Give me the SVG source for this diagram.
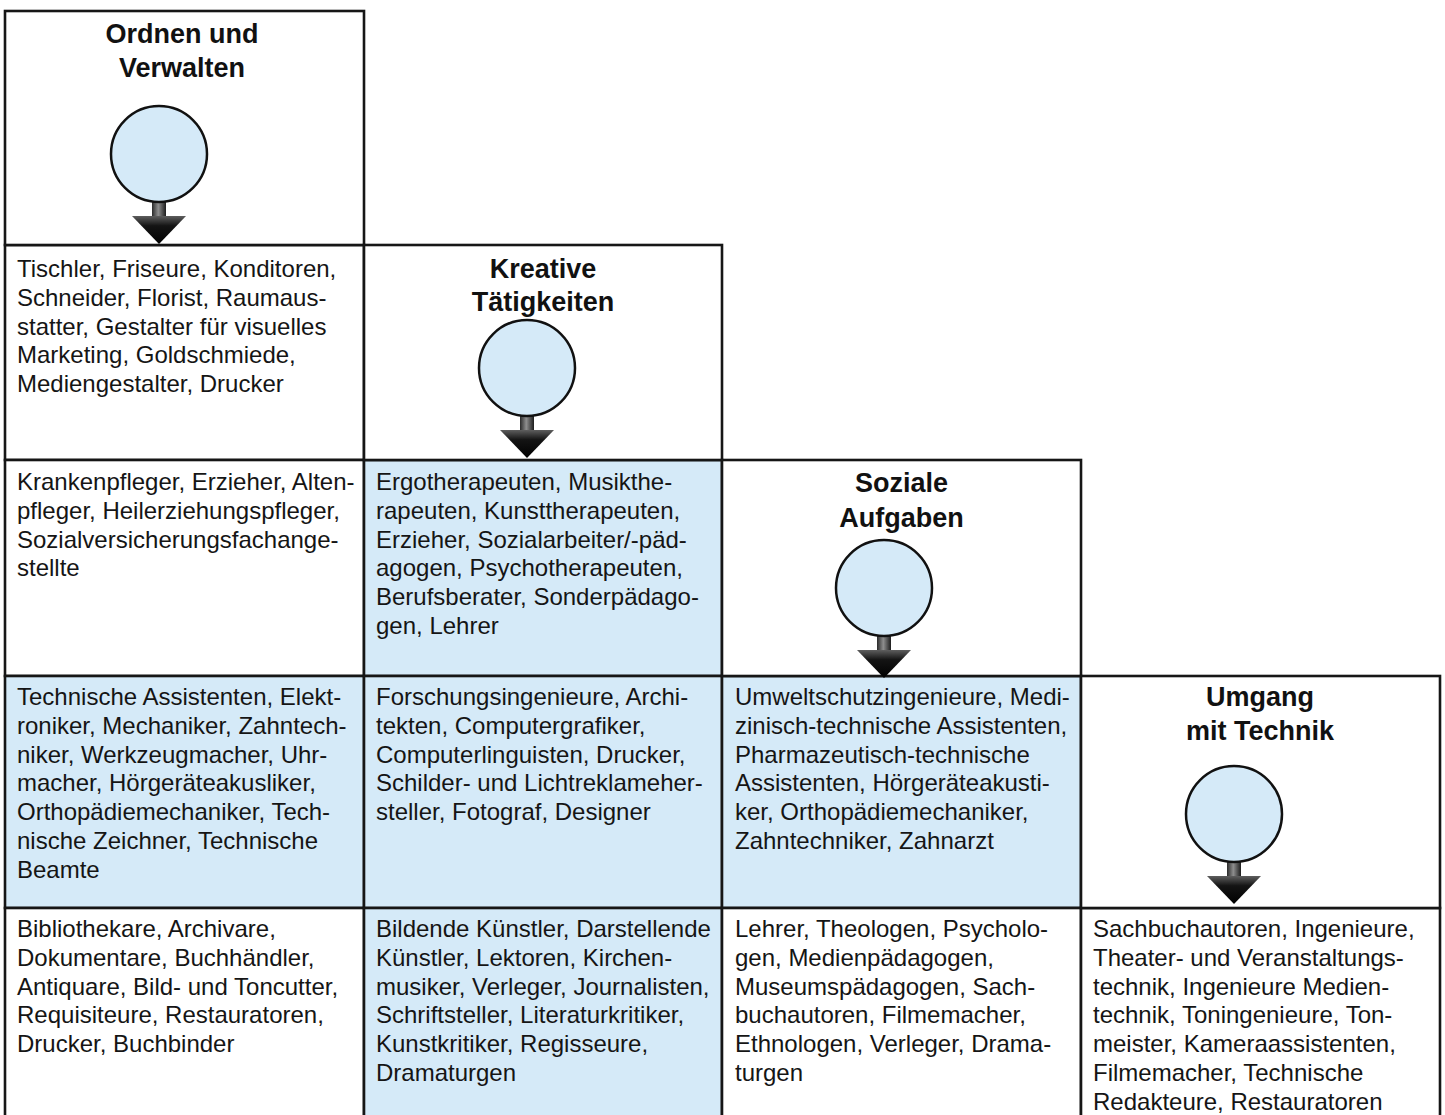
<svg xmlns="http://www.w3.org/2000/svg" xmlns:xlink="http://www.w3.org/1999/xlink" width="1445" height="1115" viewBox="0 0 1445 1115">
<style>
.cell{stroke:#161616;stroke-width:2.6;}
.w{fill:#ffffff;}
.b{fill:#d5eaf8;}
.ring{fill:#d5eaf8;stroke:#111111;stroke-width:2.5;}
.title{font-family:"Liberation Sans",Arial,sans-serif;font-size:27px;font-weight:bold;fill:#111111;text-anchor:middle;}
.body{font-family:"Liberation Sans",Arial,sans-serif;font-size:24px;fill:#151515;}
</style>
<defs>
<linearGradient id="stemGrad" x1="0" y1="0" x2="1" y2="0">
<stop offset="0" stop-color="#2a2a2a"/>
<stop offset="0.45" stop-color="#8e8e8e"/>
<stop offset="1" stop-color="#1c1c1c"/>
</linearGradient>
<linearGradient id="headGrad" x1="0" y1="0" x2="0" y2="1">
<stop offset="0" stop-color="#5e5e5e"/>
<stop offset="0.35" stop-color="#141414"/>
<stop offset="1" stop-color="#000000"/>
</linearGradient>
<g id="pin">
<rect x="-7" y="44" width="14" height="19" fill="url(#stemGrad)"/>
<polygon points="-27,62 27,62 0,90" fill="url(#headGrad)"/>
</g>
</defs>

<rect x="0" y="0" width="1445" height="1115" fill="#ffffff"/>

<!-- grid cells -->
<g id="cells">
<rect class="cell w" x="5" y="245" width="359" height="215"/>
<rect class="cell w" x="5" y="460" width="359" height="216"/>
<rect class="cell b" x="5" y="676" width="359" height="232"/>
<rect class="cell w" x="5" y="908" width="359" height="220"/>
<rect class="cell b" x="364" y="460" width="358" height="216"/>
<rect class="cell b" x="364" y="676" width="358" height="232"/>
<rect class="cell b" x="364" y="908" width="358" height="220"/>
<rect class="cell b" x="722" y="676" width="359" height="232"/>
<rect class="cell w" x="722" y="908" width="359" height="220"/>
<rect class="cell w" x="1081" y="908" width="359" height="220"/>
</g>

<g id="node-ordnen">
<rect class="cell w" x="5" y="11" width="359" height="234"/>
<text class="title" x="182" y="43">Ordnen und</text>
<text class="title" x="182" y="77">Verwalten</text>
</g>
<g id="node-kreativ">
<rect class="cell w" x="364" y="245" width="358" height="215"/>
<text class="title" x="543" y="278">Kreative</text>
<text class="title" x="543" y="311">Tätigkeiten</text>
</g>
<g id="node-sozial">
<rect class="cell w" x="722" y="460" width="359" height="216"/>
<text class="title" x="901.5" y="492">Soziale</text>
<text class="title" x="901.5" y="527">Aufgaben</text>
</g>
<g id="node-technik">
<rect class="cell w" x="1081" y="676" width="359" height="232"/>
<text class="title" x="1260" y="706">Umgang</text>
<text class="title" x="1260" y="740">mit Technik</text>
</g>

<g id="connectors">
<use xlink:href="#pin" href="#pin" x="159" y="154"/>
<use xlink:href="#pin" href="#pin" x="527" y="368"/>
<use xlink:href="#pin" href="#pin" x="884" y="588"/>
<use xlink:href="#pin" href="#pin" x="1234" y="814"/>
</g>

<g id="circles">
<circle class="ring" cx="159" cy="154" r="48"/>
<circle class="ring" cx="527" cy="368" r="48"/>
<circle class="ring" cx="884" cy="588" r="48"/>
<circle class="ring" cx="1234" cy="814" r="48"/>
</g>

<g id="texts">
<g id="t-r1c1">
<text class="body" x="17" y="277">Tischler, Friseure, Konditoren,</text>
<text class="body" x="17" y="305.75">Schneider, Florist, Raumaus-</text>
<text class="body" x="17" y="334.5">statter, Gestalter für visuelles</text>
<text class="body" x="17" y="363.25">Marketing, Goldschmiede,</text>
<text class="body" x="17" y="392">Mediengestalter, Drucker</text>
</g>
<g id="t-r2c1">
<text class="body" x="17" y="490">Krankenpfleger, Erzieher, Alten-</text>
<text class="body" x="17" y="518.75">pfleger, Heilerziehungspfleger,</text>
<text class="body" x="17" y="547.5">Sozialversicherungsfachange-</text>
<text class="body" x="17" y="576.25">stellte</text>
</g>
<g id="t-r2c2">
<text class="body" x="376" y="490">Ergotherapeuten, Musikthe-</text>
<text class="body" x="376" y="518.75">rapeuten, Kunsttherapeuten,</text>
<text class="body" x="376" y="547.5">Erzieher, Sozialarbeiter/-päd-</text>
<text class="body" x="376" y="576.25">agogen, Psychotherapeuten,</text>
<text class="body" x="376" y="605">Berufsberater, Sonderpädago-</text>
<text class="body" x="376" y="633.75">gen, Lehrer</text>
</g>
<g id="t-r3c1">
<text class="body" x="17" y="705">Technische Assistenten, Elekt-</text>
<text class="body" x="17" y="733.75">roniker, Mechaniker, Zahntech-</text>
<text class="body" x="17" y="762.5">niker, Werkzeugmacher, Uhr-</text>
<text class="body" x="17" y="791.25">macher, Hörgeräteakusliker,</text>
<text class="body" x="17" y="820">Orthopädiemechaniker, Tech-</text>
<text class="body" x="17" y="848.75">nische Zeichner, Technische</text>
<text class="body" x="17" y="877.5">Beamte</text>
</g>
<g id="t-r3c2">
<text class="body" x="376" y="705">Forschungsingenieure, Archi-</text>
<text class="body" x="376" y="733.75">tekten, Computergrafiker,</text>
<text class="body" x="376" y="762.5">Computerlinguisten, Drucker,</text>
<text class="body" x="376" y="791.25">Schilder- und Lichtreklameher-</text>
<text class="body" x="376" y="820">steller, Fotograf, Designer</text>
</g>
<g id="t-r3c3">
<text class="body" x="735" y="705">Umweltschutzingenieure, Medi-</text>
<text class="body" x="735" y="733.75">zinisch-technische Assistenten,</text>
<text class="body" x="735" y="762.5">Pharmazeutisch-technische</text>
<text class="body" x="735" y="791.25">Assistenten, Hörgeräteakusti-</text>
<text class="body" x="735" y="820">ker, Orthopädiemechaniker,</text>
<text class="body" x="735" y="848.75">Zahntechniker, Zahnarzt</text>
</g>
<g id="t-r4c1">
<text class="body" x="17" y="937">Bibliothekare, Archivare,</text>
<text class="body" x="17" y="965.75">Dokumentare, Buchhändler,</text>
<text class="body" x="17" y="994.5">Antiquare, Bild- und Toncutter,</text>
<text class="body" x="17" y="1023.25">Requisiteure, Restauratoren,</text>
<text class="body" x="17" y="1052">Drucker, Buchbinder</text>
</g>
<g id="t-r4c2">
<text class="body" x="376" y="937">Bildende Künstler, Darstellende</text>
<text class="body" x="376" y="965.75">Künstler, Lektoren, Kirchen-</text>
<text class="body" x="376" y="994.5">musiker, Verleger, Journalisten,</text>
<text class="body" x="376" y="1023.25">Schriftsteller, Literaturkritiker,</text>
<text class="body" x="376" y="1052">Kunstkritiker, Regisseure,</text>
<text class="body" x="376" y="1080.75">Dramaturgen</text>
</g>
<g id="t-r4c3">
<text class="body" x="735" y="937">Lehrer, Theologen, Psycholo-</text>
<text class="body" x="735" y="965.75">gen, Medienpädagogen,</text>
<text class="body" x="735" y="994.5">Museumspädagogen, Sach-</text>
<text class="body" x="735" y="1023.25">buchautoren, Filmemacher,</text>
<text class="body" x="735" y="1052">Ethnologen, Verleger, Drama-</text>
<text class="body" x="735" y="1080.75">turgen</text>
</g>
<g id="t-r4c4">
<text class="body" x="1093" y="937">Sachbuchautoren, Ingenieure,</text>
<text class="body" x="1093" y="965.75">Theater- und Veranstaltungs-</text>
<text class="body" x="1093" y="994.5">technik, Ingenieure Medien-</text>
<text class="body" x="1093" y="1023.25">technik, Toningenieure, Ton-</text>
<text class="body" x="1093" y="1052">meister, Kameraassistenten,</text>
<text class="body" x="1093" y="1080.75">Filmemacher, Technische</text>
<text class="body" x="1093" y="1109.5">Redakteure, Restauratoren</text>
</g>
</g>
</svg>
